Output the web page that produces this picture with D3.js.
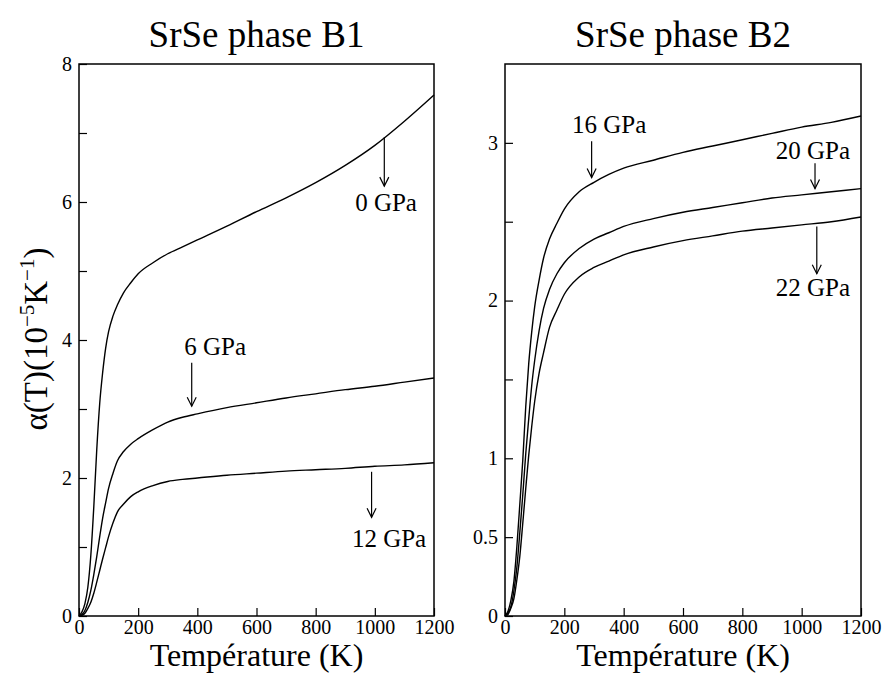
<!DOCTYPE html>
<html>
<head>
<meta charset="utf-8">
<script src="https://cdn.jsdelivr.net/npm/d3@7"></script>
<style>
  body { margin: 0; background: #fff; }
  svg text { font-family: "Liberation Serif", "DejaVu Serif", serif; fill: #000; }
</style>
</head>
<body>
<svg width="887" height="675"></svg>
<script>
// temperature grid (K) shared by every curve
var temps = [0, 10, 20, 30, 40, 50, 60, 70, 80, 90, 100, 115, 130, 150, 175, 200,
             250, 300, 350, 400, 500, 600, 700, 800, 900, 1000, 1100, 1200];

// phase B1, alpha in 1e-5 K^-1
var b1_0gpa  = [0, 0.06, 0.18, 0.42, 0.88, 1.58, 2.41, 3.08, 3.53, 3.88, 4.12, 4.35, 4.51, 4.68, 4.83, 4.96,
                5.12, 5.25, 5.35, 5.45, 5.65, 5.86, 6.06, 6.28, 6.53, 6.82, 7.17, 7.55];
var b1_6gpa  = [0, 0.02, 0.08, 0.20, 0.37, 0.60, 0.86, 1.15, 1.42, 1.64, 1.85, 2.07, 2.25, 2.38, 2.49, 2.57,
                2.70, 2.81, 2.88, 2.93, 3.02, 3.09, 3.16, 3.22, 3.28, 3.33, 3.39, 3.45];
var b1_12gpa = [0, 0.01, 0.04, 0.11, 0.20, 0.33, 0.49, 0.66, 0.83, 0.99, 1.15, 1.35, 1.51, 1.62, 1.73, 1.80,
                1.89, 1.95, 1.98, 2.00, 2.04, 2.07, 2.10, 2.12, 2.14, 2.17, 2.19, 2.22];

// phase B2
var b2_16gpa = [0, 0.03, 0.10, 0.22, 0.44, 0.71, 0.99, 1.33, 1.60, 1.80, 1.96, 2.13, 2.27, 2.39, 2.49, 2.58,
                2.69, 2.75, 2.80, 2.84, 2.89, 2.94, 2.98, 3.02, 3.06, 3.10, 3.13, 3.17];
var b2_20gpa = [0, 0.02, 0.06, 0.16, 0.31, 0.53, 0.77, 1.03, 1.25, 1.46, 1.62, 1.81, 1.95, 2.07, 2.17, 2.24,
                2.33, 2.39, 2.43, 2.47, 2.52, 2.56, 2.59, 2.62, 2.65, 2.67, 2.69, 2.71];
var b2_22gpa = [0, 0.01, 0.05, 0.11, 0.23, 0.38, 0.59, 0.81, 1.02, 1.20, 1.36, 1.54, 1.67, 1.83, 1.94, 2.04,
                2.15, 2.21, 2.25, 2.29, 2.34, 2.38, 2.41, 2.44, 2.46, 2.48, 2.50, 2.53];

var xTicks = [0, 200, 400, 600, 800, 1000, 1200];
var b1YTicks = [0, 2, 4, 6, 8], b1YMinor = [1, 3, 5, 7];
var b2YTicks = [0, 0.5, 1, 2, 3], b2YMinor = [1.5, 2.5];

// pressure labels: arrow at T from value a to value b, text centred at (lt, lv)
var b1Notes = [
  { text: "0 GPa",  t: 1032, a: 6.94, b: 6.23, lt: 1038, lv: 5.87 },
  { text: "6 GPa",  t: 381,  a: 3.67, b: 3.04, lt: 460,  lv: 3.78 },
  { text: "12 GPa", t: 989,  a: 2.09, b: 1.43, lt: 1048, lv: 1.00 }
];
var b2Notes = [
  { text: "16 GPa", t: 292,  a: 3.01, b: 2.78, lt: 351,  lv: 3.06 },
  { text: "20 GPa", t: 1045, a: 2.87, b: 2.71, lt: 1038, lv: 2.90 },
  { text: "22 GPa", t: 1051, a: 2.47, b: 2.17, lt: 1038, lv: 2.03 }
];

var serif = '"Liberation Serif", "DejaVu Serif", serif';
var svg = d3.select("svg");

function panel(opt) {
  var x = d3.scaleLinear().domain([0, 1200]).range([opt.left, opt.right]);
  var y = d3.scaleLinear().domain([0, opt.ymax]).range([616, 64]);
  var g = svg.append("g");

  g.append("rect")
      .attr("x", opt.left).attr("y", 64)
      .attr("width", opt.right - opt.left).attr("height", 552)
      .attr("fill", "none").attr("stroke", "#000").attr("stroke-width", 1.5);

  var xa = g.append("g")
      .attr("transform", "translate(0,616)")
      .call(d3.axisBottom(x).tickValues(xTicks).tickSize(-8).tickPadding(4).tickFormat(d3.format("d")));
  xa.attr("font-family", null).attr("font-size", null);
  xa.select(".domain").remove();
  xa.selectAll("line").attr("stroke-width", 1.2);
  xa.selectAll("text").style("font-size", "20px").style("font-family", serif);

  var ya = g.append("g")
      .attr("transform", "translate(" + opt.left + ",0)")
      .call(d3.axisLeft(y).tickValues(opt.yTicks).tickSize(-8).tickPadding(7).tickFormat(d3.format("")));
  ya.attr("font-family", null).attr("font-size", null);
  ya.select(".domain").remove();
  ya.selectAll("line").attr("stroke-width", 1.2);
  ya.selectAll("text").style("font-size", "20px").style("font-family", serif);

  var ym = g.append("g")
      .attr("transform", "translate(" + opt.left + ",0)")
      .call(d3.axisLeft(y).tickValues(opt.yMinor).tickSize(-8).tickFormat(""));
  ym.select(".domain").remove();
  ym.selectAll("line").attr("stroke-width", 1.2);

  var line = d3.line()
      .x(function(d, i) { return x(temps[i]); })
      .y(function(d) { return y(d); })
      .curve(d3.curveMonotoneX);

  g.selectAll("path.curve")
    .data(opt.series)
    .enter().append("path")
      .attr("class", "curve")
      .attr("d", line)
      .attr("fill", "none")
      .attr("stroke", "#000")
      .attr("stroke-width", 1.4);

  var n = g.selectAll("g.note").data(opt.notes).enter().append("g");
  n.append("line")
      .attr("x1", function(d) { return x(d.t); }).attr("x2", function(d) { return x(d.t); })
      .attr("y1", function(d) { return y(d.a); }).attr("y2", function(d) { return y(d.b); })
      .attr("stroke", "#000").attr("stroke-width", 1.2);
  n.append("path")
      .attr("d", function(d) {
        var px = x(d.t), py = y(d.b);
        return "M" + (px - 4.5) + "," + (py - 9) + "L" + px + "," + py + "L" + (px + 4.5) + "," + (py - 9);
      })
      .attr("fill", "none").attr("stroke", "#000").attr("stroke-width", 1.2);
  n.append("text")
      .attr("x", function(d) { return x(d.lt); })
      .attr("y", function(d) { return y(d.lv); })
      .attr("text-anchor", "middle")
      .style("font-size", "25px").style("font-family", serif)
      .text(function(d) { return d.text; });

  g.append("text")
      .attr("x", (opt.left + opt.right) / 2).attr("y", 47)
      .attr("text-anchor", "middle")
      .style("font-size", "37px").style("font-family", serif)
      .text(opt.title);

  g.append("text")
      .attr("x", (opt.left + opt.right) / 2).attr("y", 666)
      .attr("text-anchor", "middle")
      .style("font-size", "32px").style("font-family", serif)
      .text("Température (K)");
}

panel({ left: 79, right: 434, ymax: 8, yTicks: b1YTicks, yMinor: b1YMinor,
        series: [b1_0gpa, b1_6gpa, b1_12gpa], notes: b1Notes, title: "SrSe phase B1" });
panel({ left: 505, right: 861, ymax: 3.5, yTicks: b2YTicks, yMinor: b2YMinor,
        series: [b2_16gpa, b2_20gpa, b2_22gpa], notes: b2Notes, title: "SrSe phase B2" });

// y axis title with superscripts
var yl = svg.append("text")
    .attr("transform", "translate(47,339) rotate(-90)")
    .attr("text-anchor", "middle")
    .style("font-size", "33px").style("font-family", serif);
yl.append("tspan").text("α(T)(10");
yl.append("tspan").style("font-size", "21px").attr("dy", -13).text("−5");
yl.append("tspan").attr("dy", 13).text("K");
yl.append("tspan").style("font-size", "21px").attr("dy", -13).text("−1");
yl.append("tspan").attr("dy", 13).text(")");
</script>
</body>
</html>
